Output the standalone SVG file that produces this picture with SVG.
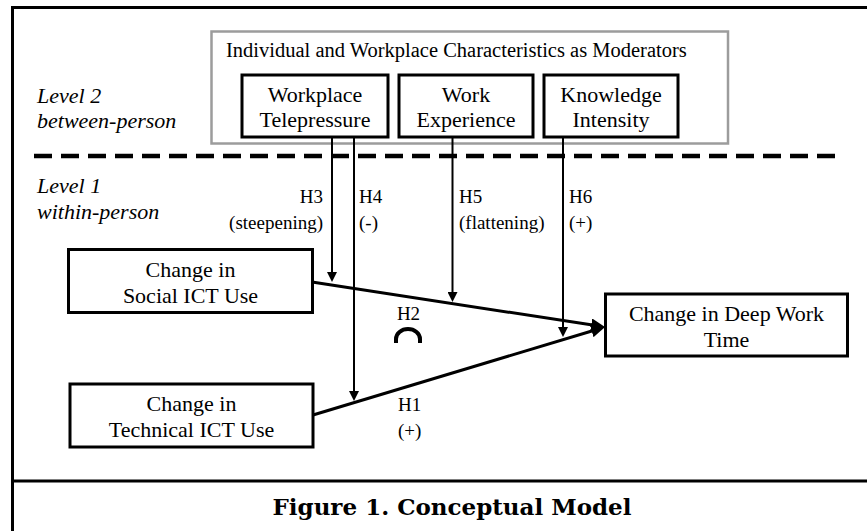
<svg xmlns="http://www.w3.org/2000/svg" width="867" height="531" viewBox="0 0 867 531">
  <style>
    .box { fill: #ffffff; stroke: #000000; stroke-width: 3; }
    .group-box { fill: none; stroke: #9c9c9c; stroke-width: 2.5; }
    .lbl { font-family: "Liberation Serif", "Times New Roman", serif; font-size: 22px; fill: #000000; text-anchor: middle; }
    .title { font-family: "Liberation Serif", "Times New Roman", serif; font-size: 20.5px; fill: #000000; }
    .level { font-family: "Liberation Serif", "Times New Roman", serif; font-size: 22px; font-style: italic; fill: #000000; }
    .hyp { font-family: "Liberation Serif", "Times New Roman", serif; font-size: 19px; fill: #000000; }
    .caption { font-family: "DejaVu Serif", "Liberation Serif", serif; font-size: 23px; font-weight: bold; fill: #000000; text-anchor: middle; }
    .main { fill: none; stroke: #000000; stroke-width: 3; }
    .mod { fill: none; stroke: #000000; stroke-width: 2; }
    .frame { fill: none; stroke: #000000; stroke-width: 3; }
  </style>
  <defs>
    <marker id="head-big" markerUnits="userSpaceOnUse" markerWidth="14" markerHeight="13" viewBox="0 0 14 13" refX="8" refY="6.5" orient="auto">
      <path d="M0,0 L14,6.5 L0,13 Z" fill="#000000"/>
    </marker>
    <marker id="head-small" markerUnits="userSpaceOnUse" markerWidth="10" markerHeight="10" viewBox="0 0 10 10" refX="5" refY="5" orient="auto">
      <path d="M0,0 L10,5 L0,10 Z" fill="#000000"/>
    </marker>
  </defs>

  <rect x="0" y="0" width="867" height="531" fill="#ffffff"/>

  <!-- page frame and caption rule -->
  <g id="frame">
    <line class="frame" x1="11" y1="7.5" x2="867" y2="7.5"/>
    <line class="frame" x1="12.5" y1="6" x2="12.5" y2="531"/>
    <line class="frame" x1="11" y1="481" x2="867" y2="481"/>
  </g>

  <!-- level divider -->
  <line id="level-divider" x1="34" y1="156" x2="838" y2="156" stroke="#000000" stroke-width="4.5" stroke-dasharray="18 9"/>

  <!-- level labels -->
  <g id="level-labels">
    <text class="level" x="37" y="103">Level 2</text>
    <text class="level" x="37" y="128">between-person</text>
    <text class="level" x="37" y="193">Level 1</text>
    <text class="level" x="37" y="219">within-person</text>
  </g>

  <!-- moderator group -->
  <g id="moderators">
    <rect class="group-box" x="211.5" y="31.5" width="516.5" height="112"/>
    <text class="title" x="226" y="57">Individual and Workplace Characteristics as Moderators</text>
  </g>

  <g id="node-telepressure">
    <rect class="box" x="242" y="75" width="146" height="62"/>
    <text class="lbl" x="315" y="102">Workplace</text>
    <text class="lbl" x="315" y="127">Telepressure</text>
  </g>

  <g id="node-experience">
    <rect class="box" x="399" y="75" width="134" height="62"/>
    <text class="lbl" x="466" y="102">Work</text>
    <text class="lbl" x="466" y="127">Experience</text>
  </g>

  <g id="node-knowledge">
    <rect class="box" x="544" y="75" width="134" height="62"/>
    <text class="lbl" x="611" y="102">Knowledge</text>
    <text class="lbl" x="611" y="127">Intensity</text>
  </g>

  <g id="node-social">
    <rect class="box" x="68.5" y="249.5" width="244" height="63"/>
    <text class="lbl" x="190.5" y="277">Change in</text>
    <text class="lbl" x="190.5" y="303">Social ICT Use</text>
  </g>

  <g id="node-technical">
    <rect class="box" x="70" y="384" width="243" height="63"/>
    <text class="lbl" x="191.5" y="411">Change in</text>
    <text class="lbl" x="191.5" y="437">Technical ICT Use</text>
  </g>

  <g id="node-deepwork">
    <rect class="box" x="605.5" y="294" width="242" height="62"/>
    <text class="lbl" x="726.5" y="321">Change in Deep Work</text>
    <text class="lbl" x="726.5" y="347">Time</text>
  </g>

  <!-- connectors -->
  <g id="connectors">
    <line class="main" x1="312" y1="282" x2="599.1" y2="326.1" marker-end="url(#head-big)"/>
    <line class="main" x1="313" y1="415" x2="599.3" y2="328.7" marker-end="url(#head-big)"/>
    <line class="mod" x1="332" y1="137" x2="332" y2="277" marker-end="url(#head-small)"/>
    <line class="mod" x1="354" y1="137" x2="354" y2="396" marker-end="url(#head-small)"/>
    <line class="mod" x1="452.5" y1="137" x2="452.5" y2="297" marker-end="url(#head-small)"/>
    <line class="mod" x1="563" y1="137" x2="563" y2="332" marker-end="url(#head-small)"/>
  </g>

  <!-- hypothesis labels -->
  <g id="hypotheses">
    <text class="hyp" x="323" y="203" text-anchor="end">H3</text>
    <text class="hyp" x="323" y="229" text-anchor="end">(steepening)</text>
    <text class="hyp" x="359" y="203">H4</text>
    <text class="hyp" x="359" y="229">(-)</text>
    <text class="hyp" x="459" y="203">H5</text>
    <text class="hyp" x="459" y="229">(flattening)</text>
    <text class="hyp" x="569" y="203">H6</text>
    <text class="hyp" x="569" y="229">(+)</text>
    <text class="hyp" x="408.5" y="320" text-anchor="middle">H2</text>
    <path d="M396,343 L396,339 A12,10 0 0 1 420,339 L420,343" fill="none" stroke="#000000" stroke-width="4"/>
    <text class="hyp" x="398" y="411">H1</text>
    <text class="hyp" x="398" y="437">(+)</text>
  </g>

  <text class="caption" x="452" y="515">Figure 1. Conceptual Model</text>
</svg>
